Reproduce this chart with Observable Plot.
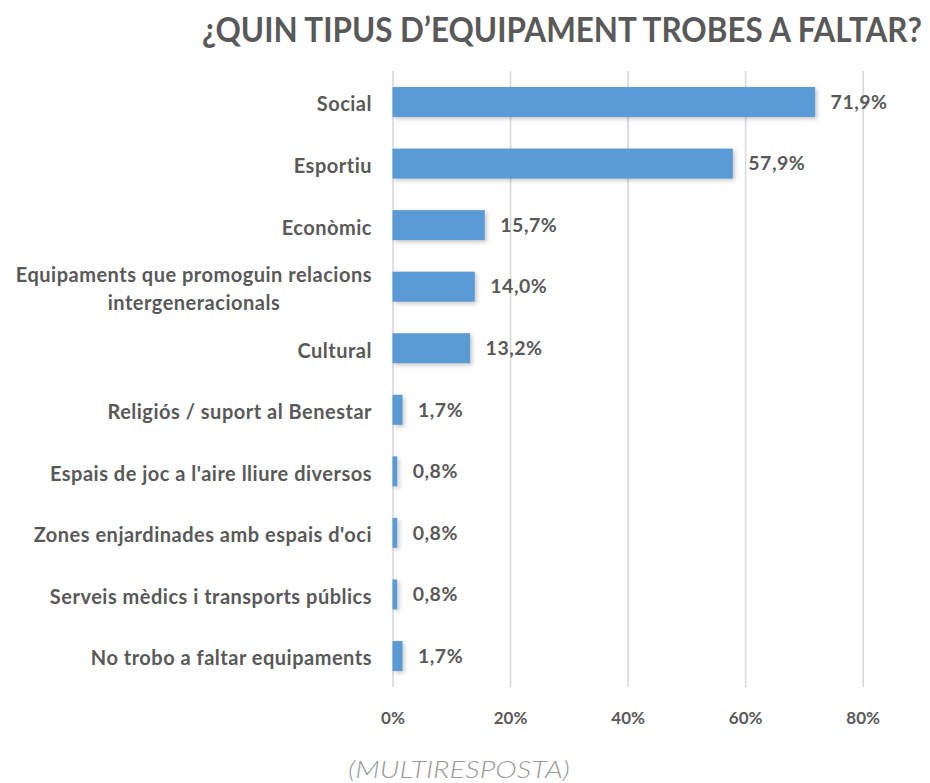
<!DOCTYPE html>
<html>
<head>
<meta charset="utf-8">
<script src="https://cdn.jsdelivr.net/npm/d3@7"></script>
<script src="https://cdn.jsdelivr.net/npm/@observablehq/plot@0.6"></script>
<style>
  html, body { margin: 0; padding: 0; background: #ffffff; }
  #wrap { position: relative; width: 930px; height: 783px; overflow: hidden; }
  #wrap > svg.overlay { position: absolute; left: 0; top: 0; pointer-events: none; }
  #wrap g[aria-label="bar"] rect { filter: drop-shadow(2px 2px 2px rgba(0,0,0,0.22)); }
</style>
</head>
<body>
<div id="wrap"></div>
<script>
// ---- data ----
const title = "¿QUIN TIPUS D’EQUIPAMENT TROBES A FALTAR?";
const caption = "(MULTIRESPOSTA)";
const categories = [
  "Social",
  "Esportiu",
  "Econòmic",
  "Equipaments que promoguin relacions\nintergeneracionals",
  "Cultural",
  "Religiós / suport al Benestar",
  "Espais de joc a l'aire lliure diversos",
  "Zones enjardinades amb espais d'oci",
  "Serveis mèdics i transports públics",
  "No trobo a faltar equipaments"
];
const values = [71.9, 57.9, 15.7, 14.0, 13.2, 1.7, 0.8, 0.8, 0.8, 1.7];
const xTicks = [0, 20, 40, 60, 80];

// ---- build ----
const data = categories.map((c, i) => ({category: c, value: values[i]}));
const fmt = v => v.toFixed(1).replace(".", ",") + "%";
const textColor = "#595959";

const chart = Plot.plot({
  width: 930,
  height: 740,
  marginTop: 71,
  marginBottom: 53,
  marginLeft: 392.5,
  marginRight: 67.3,
  style: {fontFamily: "Lato, 'Open Sans', sans-serif", background: "transparent"},
  x: {domain: [0, 80], axis: null, label: null},
  y: {domain: categories, paddingInner: 0.513, paddingOuter: 0.26, round: false, axis: null},
  marks: [
    Plot.gridX(xTicks, {stroke: "#d9d9d9", strokeOpacity: 1, strokeWidth: 1.6}),
    Plot.barX(data, {x: "value", y: "category", fill: "#5b9bd5"}),
    Plot.axisX(xTicks, {
      label: null,
      tickFormat: d => d + "%", tickSize: 0, tickPadding: 24,
      fontSize: 17, fontWeight: "bold", fill: textColor
    }),
    Plot.text(data, {
      y: "category", text: "category", frameAnchor: "left", textAnchor: "end",
      dx: -21, lineHeight: 1.4, fontSize: 20, fontWeight: "bold", fill: textColor
    }),
    Plot.text(data, {
      x: "value", y: "category", text: d => fmt(d.value), textAnchor: "start",
      dx: 15, fontSize: 19.5, fontWeight: "bold", fill: textColor
    })
  ]
});

const wrap = document.getElementById("wrap");
wrap.appendChild(chart);

// loosen letter spacing of category labels and value labels (Calibri-like width)
d3.select(chart).selectAll("g[aria-label='text'] text").style("letter-spacing", "0.5px");

// center lines of multi-line category labels (block right-aligned)
d3.select(chart).selectAll("text").each(function() {
  const tspans = this.querySelectorAll("tspan");
  if (tspans.length > 1) {
    const w = d3.max(Array.from(tspans), t => t.getComputedTextLength());
    this.setAttribute("text-anchor", "middle");
    const tr = this.getAttribute("transform") || "";
    this.setAttribute("transform", tr + ` translate(${-w / 2},0)`);
  }
});

// title and caption overlay, horizontally scaled to the reference widths
const ov = d3.select(wrap).append("svg")
  .attr("class", "overlay")
  .attr("width", 930).attr("height", 783);
function fitText(sel, x, y, targetW) {
  const w = sel.node().getComputedTextLength();
  sel.attr("transform", `translate(${x},${y}) scale(${targetW / w},1)`);
}
const t1 = ov.append("text")
  .style("font-family", "Lato, 'Open Sans', sans-serif")
  .style("font-weight", "bold").style("font-size", "35px")
  .style("fill", textColor)
  .text(title);
fitText(t1, 202, 42, 720);
const t2 = ov.append("text")
  .style("font-family", "Lato, 'Open Sans', sans-serif")
  .style("font-weight", "300").style("font-style", "italic").style("font-size", "24px")
  .style("fill", "#9a9a9a")
  .text(caption);
fitText(t2, 348, 778, 222);
</script>
</body>
</html>
